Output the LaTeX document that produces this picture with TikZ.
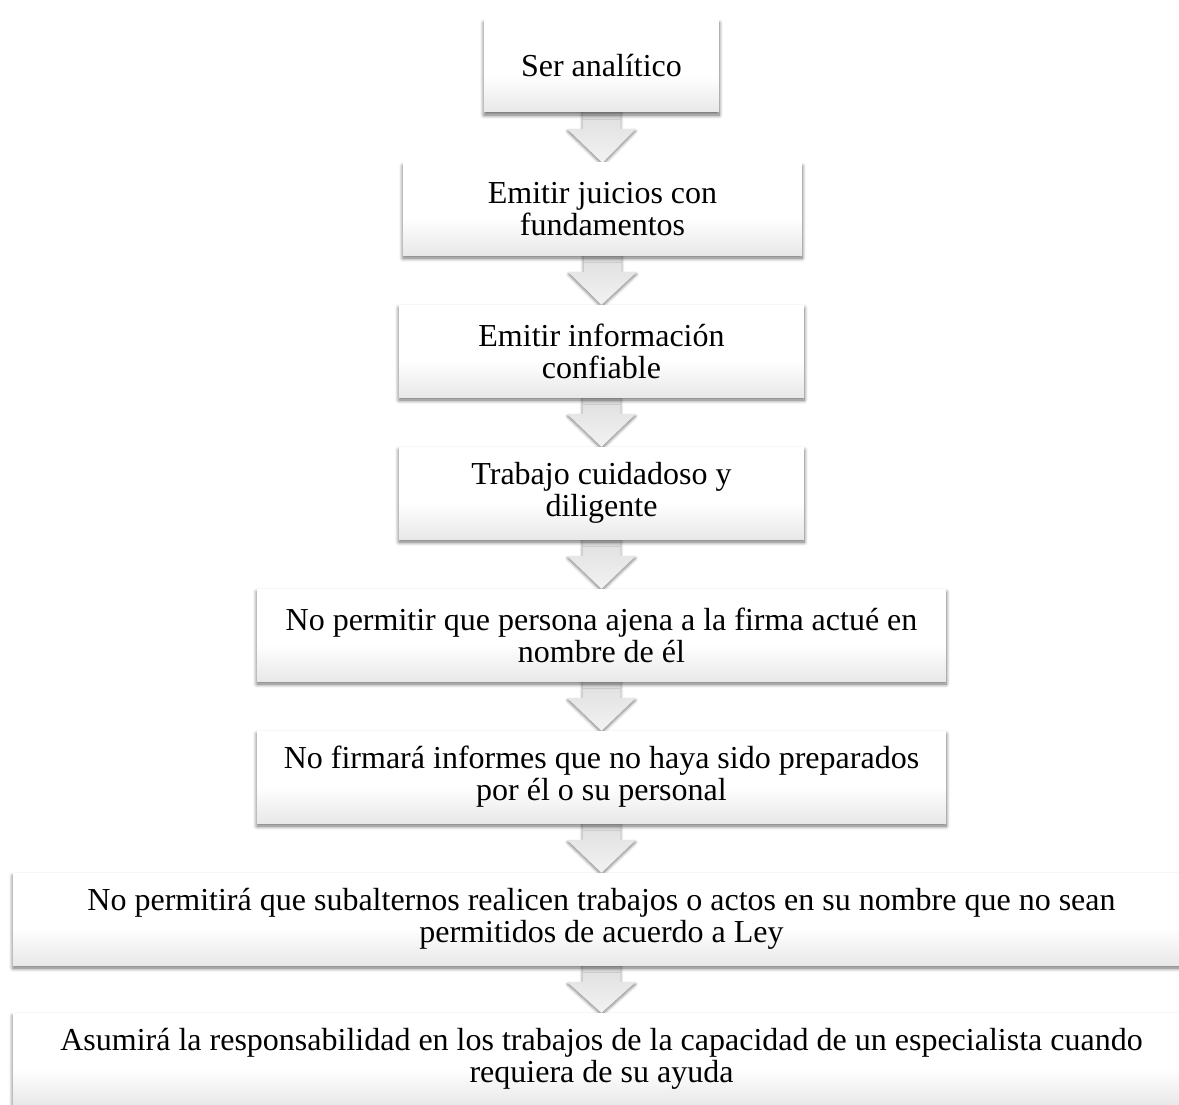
\documentclass[tikz,border=0pt]{standalone}
\usepackage{fontspec}
\setmainfont{Liberation Serif}
\usetikzlibrary{calc,shadows.blur}
\pgfdeclarelayer{background}
\pgfsetlayers{background,main}
\pgfdeclareverticalshading{boxgrad}{100bp}{color(0bp)=(black!9); color(25bp)=(black!9); color(45bp)=(white); color(100bp)=(white)}
\tikzset{
  flowbox/.style={rectangle, shading=boxgrad, inner sep=0pt, minimum height=92pt,
    align=center, font=\fontsize{32}{32}\selectfont,
    blur shadow={shadow xshift=0pt, shadow yshift=-3pt, shadow blur radius=4pt, shadow blur steps=8, shadow opacity=60}},
  arrowshape/.style={top color=black!13, bottom color=black!5,
    blur shadow={shadow xshift=0pt, shadow yshift=-2pt, shadow blur radius=3pt, shadow blur steps=6, shadow opacity=50}}
}
\newcommand\flowarrow[2]{%
  \path[arrowshape] ($(#1.south)+(-19,-4)$) -- ($(#1.south)+(-19,17)$) -- ($(#1.south)+(-34,17)$)
    -- (#2.north) -- ($(#1.south)+(34,17)$) -- ($(#1.south)+(19,17)$) -- ($(#1.south)+(19,-4)$) -- cycle;}
\begin{document}
\begin{tikzpicture}[x=1pt,y=-1pt]
\useasboundingbox (0,0) rectangle (1179,1105);
\node[flowbox, minimum width=235pt] (b1) at (601.5,66) {Ser analítico};
\node[flowbox, minimum width=399pt] (b2) at (602.5,209) {Emitir juicios con\\fundamentos};
\node[flowbox, minimum width=405pt] (b3) at (601.5,351) {Emitir información\\confiable};
\node[flowbox, minimum width=405pt] (b4) at (601.5,493) {Trabajo cuidadoso y\\diligente};
\node[flowbox, minimum width=689pt] (b5) at (601.5,635) {No permitir que persona ajena a la firma actué en\\nombre de él};
\node[flowbox, minimum width=689pt] (b6) at (601.5,777) {No firmará informes que no haya sido preparados\\por él o su personal};
\node[flowbox, minimum width=1177pt] (b7) at (601.5,919) {No permitirá que subalternos realicen trabajos o actos en su nombre que no sean\\permitidos de acuerdo a Ley};
\node[flowbox, minimum width=1177pt] (b8) at (601.5,1059) {Asumirá la responsabilidad en los trabajos de la capacidad de un especialista cuando\\requiera de su ayuda};
\begin{pgfonlayer}{background}
\flowarrow{b1}{b2}
\flowarrow{b2}{b3}
\flowarrow{b3}{b4}
\flowarrow{b4}{b5}
\flowarrow{b5}{b6}
\flowarrow{b6}{b7}
\flowarrow{b7}{b8}
\end{pgfonlayer}
\end{tikzpicture}
\end{document}
